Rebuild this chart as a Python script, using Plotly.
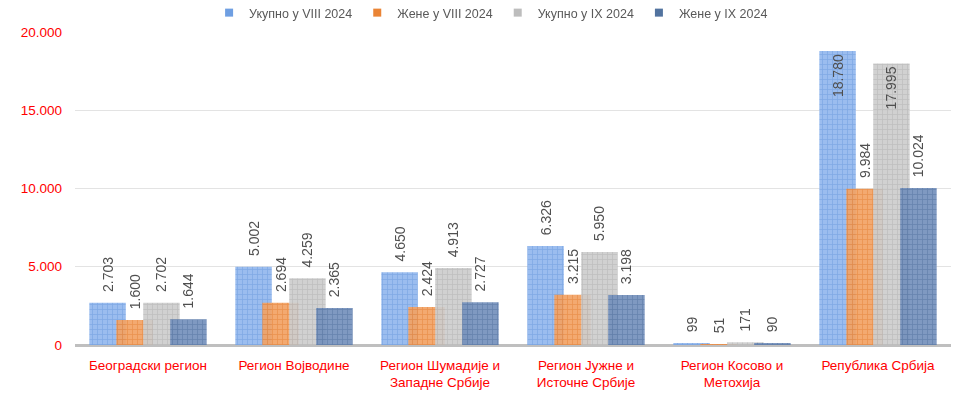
import plotly.graph_objects as go

# Регионални подаци: укупно и жене, август и септембар 2024.
regions = [
    "Београдски регион",
    "Регион Војводине",
    "Регион Шумадије и<br>Западне Србије",
    "Регион Јужне и<br>Источне Србије",
    "Регион Косово и<br>Метохија",
    "Република Србија",
]
total_aug = [2703, 5002, 4650, 6326, 99, 18780]
women_aug = [1600, 2694, 2424, 3215, 51, 9984]
total_sep = [2702, 4259, 4913, 5950, 171, 17995]
women_sep = [1644, 2365, 2727, 3198, 90, 10024]

series_names = ["Укупно у VIII 2024", "Жене у VIII 2024", "Укупно у IX 2024", "Жене у IX 2024"]
series_values = [total_aug, women_aug, total_sep, women_sep]
bg_colors = ["#93B8EE", "#F2A264", "#CDCDCD", "#7490BC"]
fg_colors = ["#5A8DD8", "#E0701C", "#A8A8A8", "#3E6396"]
legend_colors = ["#6F9FE2", "#EA8435", "#BDBDBD", "#52739F"]

bar_width = 0.25
centers = [-0.277, -0.092, 0.092, 0.277]
# values whose labels sit inside the top of the bar (too tall for an outside label)
inside_values = {18780, 17995}

NBSP = "\u00a0"

fig = go.Figure()
for name, vals, bg, fg, c in zip(series_names, series_values, bg_colors, fg_colors, centers):
    positions = ["inside" if v in inside_values else "outside" for v in vals]
    labels = [f"{v:,}".replace(",", ".") for v in vals]
    labels = [t if v in inside_values else NBSP * 2 + t for t, v in zip(labels, vals)]
    fig.add_trace(go.Bar(
        x=regions,
        y=vals,
        name=name,
        showlegend=False,
        width=bar_width,
        offset=c - bar_width / 2,
        opacity=0.92,
        marker=dict(
            color=bg,
            line=dict(width=0),
            pattern=dict(shape="+", fgcolor=fg, bgcolor=bg, size=5, solidity=0.3, fillmode="overlay"),
        ),
        text=labels,
        texttemplate="%{text}",
        textposition=positions,
        insidetextanchor="end",
        textangle=-90,
        textfont=dict(size=14, color="#404040"),
        insidetextfont=dict(size=14, color="#404040"),
        outsidetextfont=dict(size=14, color="#404040"),
        constraintext="none",
        cliponaxis=False,
    ))

# square legend keys
for name, col in zip(series_names, legend_colors):
    fig.add_trace(go.Scatter(
        x=[None], y=[None],
        mode="markers",
        name=name,
        marker=dict(symbol="square", size=8, color=col),
        showlegend=True,
    ))

fig.update_layout(
    width=966,
    height=394,
    barmode="overlay",
    separators=",.",
    paper_bgcolor="white",
    plot_bgcolor="white",
    font=dict(family="Liberation Sans, Arial, sans-serif", size=12, color="#595959"),
    margin=dict(l=75, r=15, t=32, b=49, autoexpand=False),
    showlegend=True,
    legend=dict(
        orientation="h",
        x=0.475, xanchor="center",
        yref="container",
        y=0.967, yanchor="middle",
        font=dict(size=12.5, color="#595959"),
        itemwidth=30,
        traceorder="normal",
        bgcolor="rgba(0,0,0,0)",
    ),
    xaxis=dict(
        tickfont=dict(size=13.5, color="#FF0000"),
        showline=False,
        showgrid=False,
        ticks="",
        ticklabelstandoff=10,
        automargin=False,
    ),
    yaxis=dict(
        range=[0, 20000],
        dtick=5000,
        tickformat=",.0f",
        tickfont=dict(size=13.5, color="#FF0000"),
        showgrid=True,
        gridcolor="#E3E3E3",
        gridwidth=1,
        zeroline=True,
        zerolinecolor="#BFBFBF",
        zerolinewidth=3,
        ticks="",
        ticklabelstandoff=12,
        automargin=False,
    ),
)

fig.write_html("out.html")
